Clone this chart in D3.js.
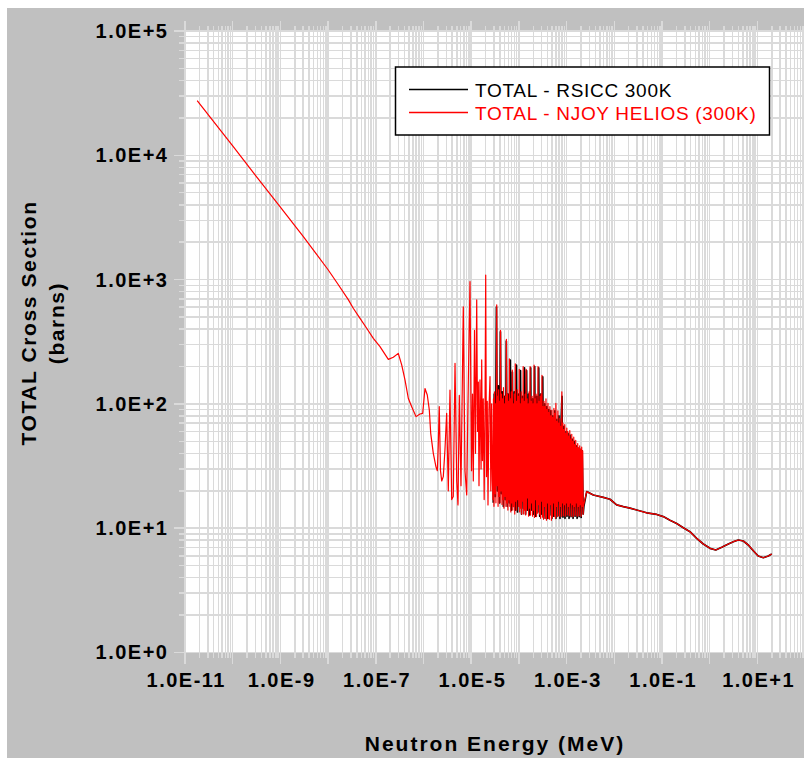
<!DOCTYPE html>
<html><head><meta charset="utf-8">
<script src="https://cdn.jsdelivr.net/npm/d3@7"></script>
<style>
body{margin:0;background:#fff}
svg{display:block}
</style>
</head><body>
<svg id="chart" width="804" height="758"></svg>
<script>
// ---------- data ----------
const xTickExponents = [-11, -9, -7, -5, -3, -1, 1];
const yTickExponents = [0, 1, 2, 3, 4, 5];
const xDomain = [1e-11, 1e2];      // Neutron energy (MeV)
const yDomain = [1, 1e5];          // Cross section (barns)
const seriesNames = ["TOTAL - RSICC 300K", "TOTAL - NJOY HELIOS (300K)"];
const seriesColors = ["#000000", "#ff0000"];

// NJOY HELIOS: thermal / low resolved region [E (MeV), sigma (b)]
const heliosLow = [
  [1.8e-11,27500],[3e-11,21400],[1e-10,11900],[3e-10,6900],[9.8e-10,3860],[3e-9,2230],
  [1e-8,1200],[1.6e-8,922],[2.65e-8,690],[3.37e-8,588],[4.67e-8,488],[6.44e-8,406],
  [8.87e-8,337],[1.225e-7,289],[1.83e-7,228],[2.33e-7,237],[2.96e-7,255],[3.49e-7,206],
  [4.09e-7,156],[4.8e-7,111],[5.66e-7,95],[6.97e-7,79],[8.45e-7,83],[9.62e-7,84],
  [1.074e-6,133],[1.2e-6,118],[1.325e-6,89],[1.416e-6,58],[1.605e-6,40],[1.83e-6,31],
  [1.95e-6,29],[2.04e-6,47],[2.14e-6,95],[2.27e-6,29],[2.41e-6,24],[2.6e-6,26],
  [2.82e-6,43],[3.06e-6,84],[3.31e-6,20],[3.59e-6,129],[3.9e-6,17],[4.21e-6,18],
  [4.58e-6,212],[4.97e-6,24],[5.29e-6,15.4],[5.63e-6,117],[6.11e-6,22],[6.83e-6,605],
  [7.41e-6,29],[8.05e-6,18.5],[8.57e-6,107],[9.44e-6,962],[1.015e-5,29],[1.065e-5,120],
  [1.107e-5,24],[1.173e-5,390],[1.23e-5,40],[1.305e-5,686],[1.36e-5,60],[1.41e-5,150],
  [1.457e-5,22],[1.529e-5,156],[1.61e-5,30],[1.66e-5,226],[1.72e-5,35],[1.79e-5,110],
  [1.87e-5,17],[1.95e-5,95],[2.014e-5,1089],[2.09e-5,26],[2.17e-5,105],[2.25e-5,15.4],
  [2.36e-5,90],[2.48e-5,166],[2.58e-5,20],[2.68e-5,100],[2.78e-5,24]
];

// NJOY HELIOS: dense resolved resonance region
const heliosResonance = [
  [2.86e-5,17],[2.93e-5,110],[3.0e-5,15],[3.08e-5,125],[3.15e-5,19],[3.23e-5,100],[3.3e-5,16],
  [3.43e-5,625],[3.5e-5,22],[3.58e-5,115],[3.66e-5,15],[3.75e-5,130],[3.84e-5,18],[3.93e-5,105],
  [4.02e-5,16],[4.12e-5,390],[4.22e-5,20],[4.32e-5,120],[4.42e-5,15.5],[4.53e-5,110],[4.64e-5,17],
  [4.75e-5,135],[4.86e-5,14.5],[4.98e-5,100],[5.1e-5,18],[5.22e-5,115],[5.34e-5,15],[5.47e-5,330],
  [5.6e-5,16],[5.74e-5,120],[5.88e-5,14],[6.02e-5,105],[6.16e-5,17],[6.31e-5,230],[6.46e-5,15],
  [6.61e-5,110],[6.77e-5,13.5],[6.93e-5,125],[7.1e-5,16],[7.27e-5,187],[7.45e-5,14],[7.63e-5,100],
  [7.81e-5,15],[8.0e-5,120],[8.2e-5,13],[8.4e-5,210],[8.6e-5,16.5],[8.81e-5,105],[9.02e-5,14],
  [9.24e-5,130],[9.46e-5,17],[9.69e-5,115],[9.92e-5,15],[1.016e-4,190],[1.04e-4,13.5],[1.065e-4,100],
  [1.09e-4,14.5],[1.117e-4,125],[1.144e-4,13],[1.171e-4,110],[1.2e-4,16.5],[1.229e-4,200],[1.259e-4,13],
  [1.289e-4,105],[1.32e-4,14],[1.352e-4,120],[1.385e-4,12.8],[1.418e-4,190],[1.453e-4,14],[1.488e-4,110],
  [1.524e-4,17.5],[1.561e-4,100],[1.599e-4,12.5],[1.637e-4,125],[1.677e-4,14.5],[1.718e-4,200],[1.76e-4,12.8],
  [1.802e-4,105],[1.846e-4,16],[1.89e-4,115],[1.936e-4,12.5],[1.983e-4,100],[2.031e-4,14],[2.08e-4,205],
  [2.13e-4,12.2],[2.182e-4,110],[2.235e-4,17],[2.289e-4,120],[2.344e-4,12.4],[2.401e-4,100],[2.459e-4,13.2],
  [2.519e-4,200],[2.58e-4,15.5],[2.642e-4,105],[2.706e-4,13],[2.772e-4,115],[2.839e-4,12],[2.907e-4,120],
  [2.978e-4,16.5],[3.05e-4,170],[3.124e-4,12.3],[3.2e-4,95],[3.277e-4,11.8],[3.356e-4,105],[3.438e-4,15],
  [3.521e-4,95],[3.606e-4,12],[3.693e-4,110],[3.783e-4,11.6],[3.874e-4,90],[3.968e-4,16],[4.064e-4,101],
  [4.163e-4,12],[4.263e-4,85],[4.367e-4,11.8],[4.472e-4,95],[4.581e-4,15.5],[4.692e-4,80],[4.805e-4,11.6],
  [4.922e-4,89],[5.041e-4,12.3],[5.163e-4,78],[5.288e-4,16],[5.416e-4,92],[5.548e-4,12.6],[5.682e-4,84],
  [5.82e-4,12],[5.961e-4,101],[6.105e-4,15],[6.253e-4,72],[6.405e-4,12.4],[6.56e-4,88],[6.719e-4,16.5],
  [6.882e-4,70],[7.049e-4,12.5],[7.22e-4,76],[7.395e-4,15],[7.574e-4,66],[7.758e-4,12.4],[7.946e-4,125],
  [8.139e-4,16],[8.336e-4,70],[8.538e-4,12.6],[8.745e-4,62],[8.957e-4,15.5],[9.174e-4,68],[9.396e-4,12.5],
  [9.624e-4,58],[9.857e-4,16],[1.0096e-3,64],[1.034e-3,12.8],[1.059e-3,60],[1.085e-3,15],[1.111e-3,55],
  [1.138e-3,12.6],[1.166e-3,61],[1.194e-3,16],[1.223e-3,52],[1.253e-3,12.5],[1.283e-3,57],[1.314e-3,15.5],
  [1.346e-3,50],[1.379e-3,12.4],[1.412e-3,54],[1.446e-3,15],[1.481e-3,47],[1.517e-3,12.7],[1.554e-3,51],
  [1.592e-3,16],[1.63e-3,45],[1.67e-3,12.5],[1.71e-3,48],[1.752e-3,15],[1.794e-3,44],[1.838e-3,12.6],
  [1.882e-3,46],[1.928e-3,15.5],[1.975e-3,43],[2.023e-3,12.5],[2.072e-3,45],[2.122e-3,15],[2.174e-3,42],
  [2.226e-3,13],[2.25e-3,15]
];

// RSICC: resolved resonance region (starts ~29 eV)
const rsiccResonance = [
  [2.9e-5,16],[3.05e-5,120],[3.2e-5,18],[3.38e-5,600],[3.55e-5,20],[3.73e-5,140],[3.92e-5,16],
  [4.1e-5,380],[4.3e-5,19],[4.5e-5,125],[4.72e-5,15],[4.95e-5,115],[5.2e-5,17],[5.45e-5,320],
  [5.72e-5,15],[6.0e-5,120],[6.3e-5,16],[6.6e-5,225],[6.95e-5,14],[7.3e-5,180],[7.65e-5,15],
  [8.05e-5,125],[8.45e-5,14],[8.9e-5,205],[9.35e-5,13.5],[9.8e-5,120],[1.03e-4,15],[1.08e-4,185],
  [1.135e-4,13],[1.19e-4,115],[1.25e-4,14.5],[1.31e-4,195],[1.38e-4,13],[1.45e-4,185],[1.52e-4,14],
  [1.6e-4,120],[1.68e-4,12.8],[1.765e-4,195],[1.85e-4,14],[1.945e-4,110],[2.04e-4,13],[2.14e-4,200],
  [2.25e-4,12.5],[2.36e-4,115],[2.48e-4,13.5],[2.6e-4,195],[2.73e-4,12.5],[2.87e-4,120],[3.01e-4,13],
  [3.16e-4,165],[3.32e-4,12],[3.49e-4,100],[3.66e-4,12.5],[3.85e-4,95],[4.04e-4,12],[4.24e-4,90],
  [4.45e-4,12.8],[4.67e-4,88],[4.91e-4,12],[5.15e-4,80],[5.41e-4,12.5],[5.68e-4,88],[5.97e-4,12],
  [6.27e-4,75],[6.58e-4,12.6],[6.91e-4,80],[7.26e-4,12],[7.62e-4,68],[8.0e-4,115],[8.4e-4,12.3],
  [8.82e-4,66],[9.26e-4,12],[9.72e-4,60],[1.021e-3,12.5],[1.072e-3,58],[1.126e-3,12],[1.182e-3,56],
  [1.241e-3,12.4],[1.303e-3,52],[1.368e-3,12],[1.436e-3,50],[1.508e-3,12.5],[1.583e-3,46],[1.662e-3,12],
  [1.745e-3,44],[1.832e-3,12.4],[1.924e-3,43],[2.02e-3,12.2],[2.121e-3,42],[2.227e-3,13],[2.3e-3,15]
];

// Fast / unresolved region (both evaluations)
const fastRegion = [
  [2.64e-3,19.7],[3.63e-3,18.5],[5.88e-3,17.7],[8.13e-3,17.1],[1.12e-2,15.4],[1.545e-2,14.9],
  [2.13e-2,14.5],[2.95e-2,14.0],[4.77e-2,13.3],[7.75e-2,12.9],[0.1064,12.4],[0.147,11.6],
  [0.203,10.9],[0.28,10.1],[0.386,9.37],[0.533,8.29],[0.734,7.46],[1.015,6.89],[1.34,6.68],
  [1.79,7.02],[2.46,7.46],[3.13,7.79],[3.98,8.04],[5.06,7.89],[6.44,7.33],[8.2,6.59],
  [10.4,5.97],[13.3,5.79],[16.9,5.97],[20,6.2]
];

const rsiccSeries = rsiccResonance.concat(fastRegion);
const heliosSeries = heliosLow.concat(heliosResonance, fastRegion);

// ---------- layout ----------
const W = 804, H = 758;
const plot = {left: 185, top: 31, right: 805.1, bottom: 652.5};
const FONT = "'Liberation Sans', Arial, Helvetica, sans-serif";
const gridColor = "#dadada";

const svg = d3.select("#chart");
svg.append("rect").attr("x", 0).attr("y", 0).attr("width", W).attr("height", H).attr("fill", "#ffffff");
svg.append("rect").attr("x", 7).attr("y", 8).attr("width", W - 7).attr("height", H - 8).attr("fill", "#c0c0c0");
svg.append("rect").attr("x", plot.left).attr("y", plot.top)
   .attr("width", plot.right - plot.left).attr("height", plot.bottom - plot.top).attr("fill", "#ffffff");

const x = d3.scaleLog().domain(xDomain).range([plot.left, plot.right]);
const y = d3.scaleLog().domain(yDomain).range([plot.bottom, plot.top]);

// grid values (1..9 x 10^k)
function logGrid(lo, hi) {
  const out = [];
  for (let k = lo; k < hi; k++) for (let m = 1; m <= 9; m++) out.push({v: m * Math.pow(10, k), major: m === 1});
  out.push({v: Math.pow(10, hi), major: true});
  return out;
}
const xGrid = logGrid(-11, 2);
const yGrid = logGrid(0, 5);

const grid = svg.append("g").attr("stroke", gridColor).attr("stroke-width", 1.5).attr("shape-rendering", "crispEdges");
grid.selectAll("line.v").data(xGrid).join("line").attr("class", "v")
  .attr("x1", d => x(d.v)).attr("x2", d => x(d.v))
  .attr("y1", d => plot.top - (d.major ? 10 : 5))
  .attr("y2", d => plot.bottom + (d.major ? 11 : 5));
grid.selectAll("line.h").data(yGrid).join("line").attr("class", "h")
  .attr("y1", d => y(d.v)).attr("y2", d => y(d.v))
  .attr("x1", d => plot.left - (d.major ? 11 : 6))
  .attr("x2", plot.right);

// axes (labels only)
const expFmt = v => { const e = Math.round(Math.log10(v)); return "1.0E" + (e < 0 ? "-" : "+") + Math.abs(e); };
const yAxis = svg.append("g").attr("transform", `translate(${plot.left},0)`)
  .call(d3.axisLeft(y).tickValues(yTickExponents.map(e => Math.pow(10, e))).tickFormat(expFmt).tickSize(0).tickPadding(18));
const xAxis = svg.append("g").attr("transform", `translate(0,${plot.bottom})`)
  .call(d3.axisBottom(x).tickValues(xTickExponents.map(e => Math.pow(10, e))).tickFormat(expFmt).tickSize(0).tickPadding(20));
[yAxis, xAxis].forEach(g => {
  g.select(".domain").remove();
  g.selectAll("text").attr("font-family", FONT).attr("font-size", 20).attr("font-weight", "bold")
   .attr("fill", "#000").style("letter-spacing", "1.5px");
});
yAxis.selectAll("text").attr("dx", "1.5px");
xAxis.selectAll("text").attr("dx", "0.75px");

// data lines
svg.append("clipPath").attr("id", "clip").append("rect")
  .attr("x", plot.left).attr("y", plot.top).attr("width", plot.right - plot.left).attr("height", plot.bottom - plot.top);
const line = d3.line().x(d => x(d[0])).y(d => y(d[1]));
const dataG = svg.append("g").attr("clip-path", "url(#clip)");
dataG.append("path").datum(rsiccSeries).attr("d", line)
  .attr("fill", "none").attr("stroke", seriesColors[0]).attr("stroke-width", 1.7).attr("stroke-linejoin", "round");
dataG.append("path").datum(heliosSeries).attr("d", line)
  .attr("fill", "none").attr("stroke", seriesColors[1]).attr("stroke-width", 1.2).attr("stroke-linejoin", "round");

// legend
const lg = svg.append("g");
lg.append("rect").attr("x", 395.5).attr("y", 67).attr("width", 374).attr("height", 68)
  .attr("fill", "#fff").attr("stroke", "#000").attr("stroke-width", 1.5);
seriesNames.forEach((name, i) => {
  const yy = 89.5 + i * 23;
  lg.append("line").attr("x1", 409).attr("x2", 468).attr("y1", yy).attr("y2", yy)
    .attr("stroke", seriesColors[i]).attr("stroke-width", 1.3);
  lg.append("text").attr("x", 475).attr("y", yy + 7).text(name)
    .attr("font-family", FONT).attr("font-size", 19).attr("fill", seriesColors[i])
    .style("letter-spacing", "0.7px");
});

// axis titles
svg.append("text").attr("x", 495).attr("y", 751).attr("text-anchor", "middle")
  .attr("font-family", FONT).attr("font-size", 21).attr("font-weight", "bold").style("letter-spacing", "2px")
  .text("Neutron Energy (MeV)");
svg.append("text").attr("transform", "translate(36,323) rotate(-90)").attr("text-anchor", "middle")
  .attr("font-family", FONT).attr("font-size", 21).attr("font-weight", "bold").style("letter-spacing", "1.6px")
  .text("TOTAL Cross Section");
svg.append("text").attr("transform", "translate(64,323) rotate(-90)").attr("text-anchor", "middle")
  .attr("font-family", FONT).attr("font-size", 21).attr("font-weight", "bold").style("letter-spacing", "1.6px")
  .text("(barns)");
</script>
</body></html>
